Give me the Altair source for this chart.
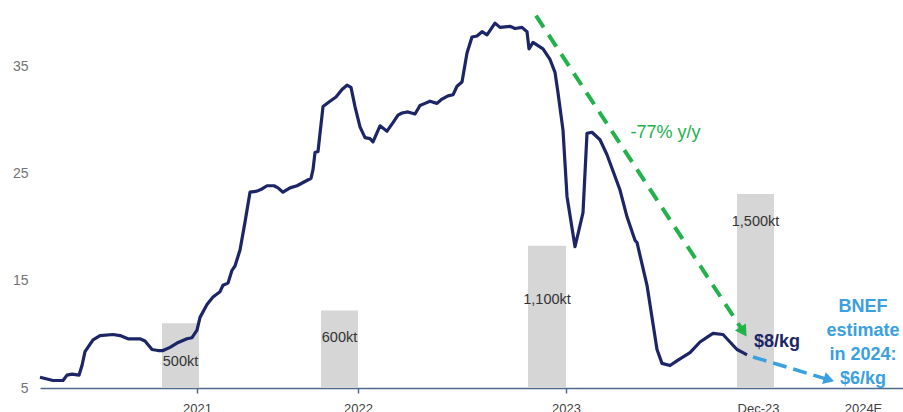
import altair as alt
import pandas as pd

# ---------------- data ----------------
# x is an observation index ("week" position along the axis), y is price in $/kg
week = [0, 2.6, 4.6, 5.4, 6.4, 7.8, 8.4, 9, 10.6, 12,
        14.6, 16, 17.6, 20, 21, 22.4, 23.6, 24.6, 26, 27.4,
        29.4, 30.4, 31.4, 32, 33.4, 34.6, 36, 36.6, 37.6, 38.4,
        39, 40, 41, 42, 43.4, 44.4, 45.4, 46.8, 47.6, 48.6,
        50, 51.4, 53, 54.2, 54.6, 55, 55.6, 56.6, 58, 59.2,
        60.4, 61.4, 62.2, 63, 64, 65, 66, 66.6, 68, 69.4,
        70.6, 71.6, 72.4, 73.6, 75, 76, 77, 78, 79.4, 80.4,
        81.6, 82.6, 83.4, 84.4, 85.4, 86.4, 87.4, 88.4, 89.4, 91,
        92, 94, 95, 96.4, 97.4, 97.8, 98.6, 100.6, 102, 103,
        103.6, 104.6, 105, 105.4, 107, 108.6, 109.4, 110.4, 112, 113.4,
        116, 117.4, 119, 119.4, 121.4, 123.4, 124.4, 126, 127.6, 130,
        132, 133.6, 134.6, 136.6, 138, 139.4, 140.6, 141.4]
price = [6.0, 5.7, 5.7, 6.2, 6.3, 6.2, 7.1, 8.4, 9.5, 9.9,
         10.0, 9.9, 9.6, 9.6, 9.4, 8.6, 8.5, 8.5, 8.8, 9.2,
         9.6, 9.7, 10.4, 11.6, 12.8, 13.5, 14.0, 14.6, 14.8, 16.0,
         16.4, 17.9, 20.5, 23.3, 23.4, 23.6, 23.9, 23.9, 23.7, 23.3,
         23.7, 23.9, 24.3, 24.6, 25.4, 27.0, 27.1, 31.3, 31.8, 32.2,
         32.9, 33.3, 33.1, 31.3, 29.4, 28.4, 28.3, 28.0, 29.5, 29.0,
         29.8, 30.5, 30.7, 30.8, 30.6, 31.4, 31.6, 31.8, 31.6, 32.0,
         32.3, 32.4, 33.2, 33.6, 36.3, 37.8, 37.9, 38.3, 38.0, 39.1,
         38.7, 38.8, 38.6, 38.7, 38.3, 36.7, 37.3, 36.7, 35.7, 34.5,
         32.6, 29.1, 26.0, 22.9, 18.2, 21.4, 28.8, 28.9, 28.2, 26.8,
         23.5, 21.0, 18.8, 18.6, 14.6, 8.6, 7.3, 7.1, 7.6, 8.3,
         9.3, 9.8, 10.1, 10.0, 9.3, 8.6, 8.3, 8.1]

bar_start = [24.4, 56.2, 97.6, 139.4]
bar_end = [31.8, 63.6, 105.2, 146.8]
bar_kt = [500, 600, 1100, 1500]
bar_label = ["500kt", "600kt", "1,100kt", "1,500kt"]
bar_label_price = [7.4, 9.7, 13.2, 20.5]

tick_week = [31.4, 63.6, 105.2, 143.6, 164.6]
tick_label = ["2021", "2022", "2023", "Dec-23", "2024E"]
y_ticks = [5, 15, 25, 35]

green_week = [99.2, 140.7]
green_price = [39.8, 10.26]
blue_week = [142.6, 157.8]
blue_price = [7.9, 5.77]

# ---------------- style ----------------
FONT = "Liberation Sans"
NAVY = "#1c2566"
GREEN = "#22b24c"
BLUE = "#3aa0e0"
AXIS = "#4f6a8f"
BAR = "#d6d6d6"

X_DOMAIN = [0, 172.6]
Y_DOMAIN = [5, 41.26]
KT_DOMAIN = [0, 3000]

xs = alt.Scale(domain=X_DOMAIN, nice=False, zero=False)
ys = alt.Scale(domain=Y_DOMAIN, nice=False, zero=False)

label_expr = " : ".join(f"datum.value == {v} ? '{l}'" for v, l in zip(tick_week, tick_label)) + " : ''"
xaxis = alt.Axis(values=tick_week, labelExpr=label_expr, grid=False, title=None,
                 domainColor=AXIS, domainWidth=1.5, tickColor=AXIS,
                 tickWidth=1.5, tickSize=5,
                 tickOpacity={"condition": {"test": "datum.value > 110", "value": 0}, "value": 1},
                 labelFont=FONT, labelFontSize=13, labelColor="#404040",
                 labelPadding=9, labelFlush=False, labelOverlap=False)


def X(field):
    return alt.X(field, scale=xs, axis=xaxis, title=None)


def Y(field):
    return alt.Y(field, scale=ys, axis=None)


line_df = pd.DataFrame({"week": week, "price": price})
bars_df = pd.DataFrame({"start": bar_start, "end": bar_end, "kt": bar_kt,
                        "label": bar_label, "lp": bar_label_price})
bars_df["mid"] = (bars_df["start"] + bars_df["end"]) / 2
green_df = pd.DataFrame({"week": green_week, "price": green_price})
blue_df = pd.DataFrame({"week": blue_week, "price": blue_price})

bars = alt.Chart(bars_df).mark_rect(color=BAR).encode(
    x=X("start:Q"),
    x2="end:Q",
    y=alt.Y("kt:Q", scale=alt.Scale(domain=KT_DOMAIN, nice=False), axis=None),
    y2=alt.datum(0),
)

bar_text = alt.Chart(bars_df).mark_text(
    font=FONT, fontSize=14.5, color="#333333", baseline="middle", align="center"
).encode(x=X("mid:Q"), y=Y("lp:Q"), text="label:N")

line = alt.Chart(line_df).mark_line(color=NAVY, strokeWidth=3.2, strokeJoin="round").encode(
    x=X("week:Q"),
    y=alt.Y("price:Q", scale=ys, title=None,
            axis=alt.Axis(values=y_ticks, grid=False, domain=False, ticks=False,
                          labelFont=FONT, labelFontSize=14, labelColor="#737373",
                          labelPadding=12)),
)

green_line = alt.Chart(green_df).mark_line(color=GREEN, strokeWidth=4, strokeDash=[14, 9]).encode(
    x=X("week:Q"), y=Y("price:Q"))
green_head = alt.Chart(green_df.tail(1)).mark_point(
    shape="triangle-up", filled=True, size=170, angle=146.7, color=GREEN, opacity=1
).encode(x=X("week:Q"), y=Y("price:Q"))

blue_line = alt.Chart(blue_df).mark_line(color=BLUE, strokeWidth=3.5, strokeDash=[14, 7]).encode(
    x=X("week:Q"), y=Y("price:Q"))
blue_head = alt.Chart(blue_df.tail(1)).mark_point(
    shape="triangle-up", filled=True, size=150, angle=107.3, color=BLUE, opacity=1
).encode(x=X("week:Q"), y=Y("price:Q"))

notes_df = pd.DataFrame({
    "week": [125.1, 147.4, 164.6],
    "price": [28.8, 9.3, 12.57],
    "text": ["-77% y/y", "$8/kg", "BNEF\nestimate\nin 2024:\n$6/kg"],
})


def note(i, color, weight, size):
    return alt.Chart(notes_df.iloc[[i]]).mark_text(
        font=FONT, fontSize=size, fontWeight=weight, color=color,
        align="center", baseline="middle", lineBreak="\n", lineHeight=24
    ).encode(x=X("week:Q"), y=Y("price:Q"), text="text:N")


chart = alt.layer(
    bars, bar_text, line, green_line, green_head, blue_line, blue_head,
    note(0, GREEN, "normal", 18), note(1, NAVY, "bold", 18), note(2, BLUE, "bold", 18),
).resolve_scale(y="independent").properties(
    width=863, height=388,
    autosize=alt.AutoSizeParams(type="none"),
    padding={"left": 40, "top": 0, "right": 0, "bottom": 24},
    background="white",
).configure_view(stroke=None)

chart.save("out.html", embed_options={"renderer": "svg", "actions": False})
